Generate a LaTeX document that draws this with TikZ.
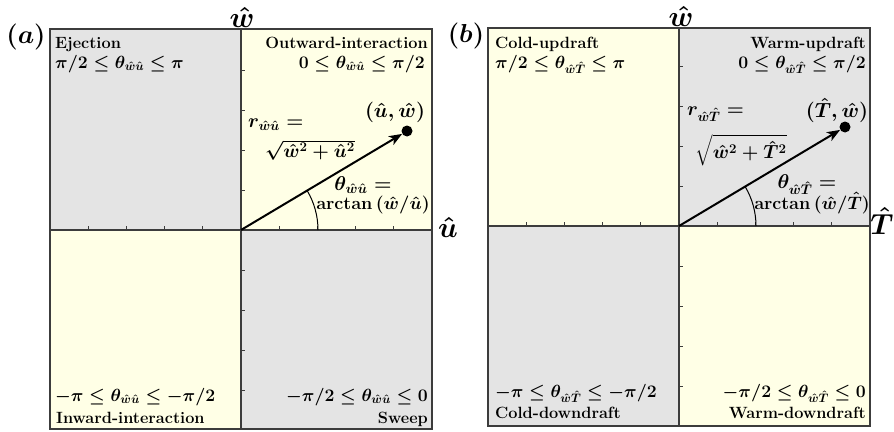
\RequirePackage{fix-cm}
\documentclass[tikz,border=0pt]{standalone}
\usepackage{amsmath}
\usetikzlibrary{arrows.meta,calc}
\definecolor{qgray}{HTML}{E4E4E4}
\definecolor{qyellow}{HTML}{FFFFE6}
\definecolor{framecol}{HTML}{3C3C3C}
\begin{document}
\begin{tikzpicture}[x=1pt,y=-1pt,
  every node/.style={inner sep=0pt, font=\fontsize{16.3}{19}\selectfont\bfseries\boldmath},
  qmath/.style={font=\fontsize{17.6}{20}\selectfont\bfseries\boldmath},
  vmath/.style={font=\fontsize{20.5}{23}\selectfont\bfseries\boldmath},
  rmath/.style={font=\fontsize{19.5}{23}\selectfont\bfseries\boldmath},
  smath/.style={font=\fontsize{19}{23}\selectfont\bfseries\boldmath},
  tmath/.style={font=\fontsize{20}{23}\selectfont\bfseries\boldmath},
  amath/.style={font=\fontsize{18}{21}\selectfont\bfseries\boldmath},
  axlabel/.style={font=\fontsize{29}{32}\selectfont\boldmath},
  panellabel/.style={font=\fontsize{26}{30}\selectfont\boldmath},
  frameline/.style={draw=framecol, line width=1.4pt},
  tick/.style={draw=framecol, line width=1pt},
  vec/.style={line width=2pt, -{Stealth[length=13pt,width=10pt,inset=3.5pt]}},
  dot/.style={circle, fill=black, minimum size=11pt, inner sep=0pt},
  anglearc/.style={line width=1pt}]
\useasboundingbox (0,0) rectangle (894,431);
% ---------------- panel (a)
\coordinate (oa) at (241,230);
\fill[qgray]   (50,29) rectangle (241,230);
\fill[qyellow] (241,29) rectangle (432,230);
\fill[qyellow] (50,230) rectangle (241,429);
\fill[qgray]   (241,230) rectangle (432,429);
\foreach \k in {-4,...,-1,1,2,3,4} {
  \draw[tick] ($(oa)+(38.2*\k,0)$) -- ++(0,-4);
  \draw[tick] ($(oa)+(0,40*\k)$) -- ++(4,0);
}
\draw[frameline] (50,230) -- (432,230);
\draw[frameline] (241,29) -- (241,429);
\draw[frameline] (50,29) rectangle (432,429);
\node[panellabel] (la) at (26,37) {$(a)$};
\node[axlabel] (wa) at (242,17) {$\hat{w}$};
\node[axlabel] (ua) at (448,227) {$\hat{u}$};
\node[anchor=base west] (ejA) at (55,48) {Ejection};
\node[qmath, anchor=base west] (ejM) at (55,68) {$\pi/2\le\theta_{\hat w\hat u}\le\pi$};
\node[anchor=base east] (owA) at (428,48) {Outward-interaction};
\node[qmath, anchor=base east] (owM) at (425,68) {$0\le\theta_{\hat w\hat u}\le\pi/2$};
\node[qmath, anchor=base west] (inM) at (55,401) {$-\pi\le\theta_{\hat w\hat u}\le-\pi/2$};
\node[anchor=base west] (inA) at (56,423) {Inward-interaction};
\node[qmath, anchor=base east] (swM) at (428,401) {$-\pi/2\le\theta_{\hat w\hat u}\le0$};
\node[anchor=base east] (swA) at (428,423) {Sweep};
\node[dot] (pa) at (407,131) {};
\draw[vec] (oa) -- (pa);
\draw[anglearc] ($(oa)+(77,0)$) arc[start angle=0, end angle=-30.8, radius=77];
\node[vmath] (ptA) at (395,112) {$(\hat{u},\hat{w})$};
\node[rmath, anchor=west] (rA) at (248,125) {$r_{\hat w\hat u}=$};
\node[smath] (sA) at (310,150) {$\sqrt{\hat w^2+\hat u^2}$};
\node[tmath] (tA) at (363,185) {$\theta_{\hat w\hat u}=$};
\node[amath] (atA) at (373,205) {$\arctan{(\hat w/\hat u)}$};
% ---------------- panel (b)
\coordinate (ob) at (679,226);
\fill[qyellow] (488,28) rectangle (679,226);
\fill[qgray]   (679,28) rectangle (870,226);
\fill[qgray]   (488,226) rectangle (679,426);
\fill[qyellow] (679,226) rectangle (870,426);
\foreach \k in {-4,...,-1,1,2,3,4} {
  \draw[tick] ($(ob)+(38.2*\k,0)$) -- ++(0,-4);
  \draw[tick] ($(ob)+(0,40*\k)$) -- ++(4,0);
}
\draw[frameline] (488,226) -- (870,226);
\draw[frameline] (679,28) -- (679,426);
\draw[frameline] (488,28) rectangle (870,426);
\node[panellabel] (lb) at (466,36) {$(b)$};
\node[axlabel] (wb) at (681,16) {$\hat{w}$};
\node[axlabel] (Tb) at (882,221) {$\hat{T}$};
\node[anchor=base west] (cuA) at (495,48) {Cold-updraft};
\node[qmath, anchor=base west] (cuM) at (495,68) {$\pi/2\le\theta_{\hat w\hat T}\le\pi$};
\node[anchor=base east] (wuA) at (866,48) {Warm-updraft};
\node[qmath, anchor=base east] (wuM) at (866,68) {$0\le\theta_{\hat w\hat T}\le\pi/2$};
\node[qmath, anchor=base west] (cdM) at (495,397) {$-\pi\le\theta_{\hat w\hat T}\le-\pi/2$};
\node[anchor=base west] (cdA) at (495,418) {Cold-downdraft};
\node[qmath, anchor=base east] (wdM) at (866,397) {$-\pi/2\le\theta_{\hat w\hat T}\le0$};
\node[anchor=base east] (wdA) at (866,418) {Warm-downdraft};
\node[dot] (pb) at (845,127) {};
\draw[vec] (ob) -- (pb);
\draw[anglearc] ($(ob)+(77,0)$) arc[start angle=0, end angle=-30.8, radius=77];
\node[vmath] (ptB) at (837,110) {$(\hat{T},\hat{w})$};
\node[rmath, anchor=west] (rB) at (687,114) {$r_{\hat w\hat T}=$};
\node[smath] (sB) at (741,150) {$\sqrt{\hat w^2+\hat T^2}$};
\node[tmath] (tB) at (807,185) {$\theta_{\hat w\hat T}=$};
\node[amath] (atB) at (812,203) {$\arctan{(\hat w/\hat T)}$};
\end{tikzpicture}
\end{document}
